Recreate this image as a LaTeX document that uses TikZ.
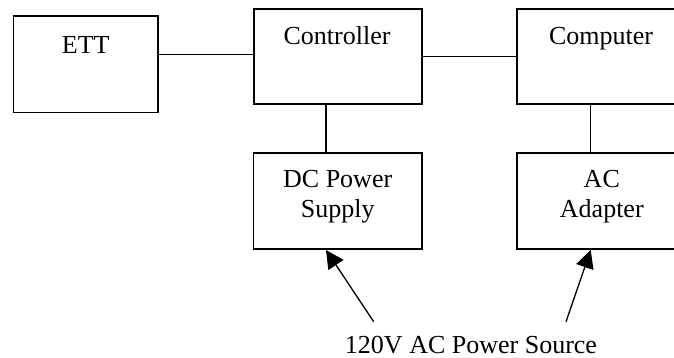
\documentclass[tikz,border=0pt]{standalone}
\usepackage{fontspec}
\setmainfont{Liberation Serif}
\usetikzlibrary{arrows.meta}
\begin{document}
\begin{tikzpicture}[x=1pt,y=-1pt,
  box/.style={draw,line width=1.8pt,rectangle,inner sep=0pt},
  lbl/.style={inner sep=0pt,font=\fontsize{26}{30}\selectfont},
  wire/.style={line width=1.5pt},
  feed/.style={line width=1.3pt,-{Triangle[length=18pt,width=18pt]}}]
\useasboundingbox (0,0) rectangle (674,358);
\begin{scope}
\clip (0,0) rectangle (674,358);
\node[box,minimum width=144.5pt,minimum height=96.6pt] (ett) at (85.75,64.3) {};
\node[box,minimum width=168pt,minimum height=95.3pt] (ctrl) at (338,56.65) {};
\node[box,minimum width=168pt,minimum height=95.3pt] (comp) at (601,56.65) {};
\node[box,minimum width=168.5pt,minimum height=96pt] (dc) at (337.75,200.7) {};
\node[box,minimum width=168pt,minimum height=96pt] (ac) at (601.35,200.7) {};
\end{scope}
\node[lbl,anchor=base] (ettl) at (85.75,53.3) {ETT};
\node[lbl,anchor=base] (ctrll) at (337,45) {Controller};
\node[lbl,anchor=base] (compl) at (601,45) {Computer};
\node[lbl,align=center] (dcl) at (337.7,197) {DC Power\\Supply};
\node[lbl,align=center] (acl) at (601.8,197) {AC\\Adapter};
\node[lbl,anchor=base] (src) at (471,353) {120V AC Power Source};
\draw[wire] ([yshift=10pt]ett.east) -- ([yshift=10pt]ett.east -| ctrl.west);
\draw[wire] (ctrl.east) -- (ctrl.east -| comp.west);
\draw[wire] ([xshift=-12pt]ctrl.south) -- ([xshift=-12pt]ctrl.south |- dc.north);
\draw[wire] ([xshift=-10.7pt]comp.south) -- ([xshift=-10.7pt]comp.south |- ac.north);
\coordinate (tA) at (373.7,321.7);
\coordinate (tB) at (566,321.7);
\coordinate (hA) at (326,250);
\coordinate (hB) at (590.7,250);
\draw[feed] (tA) -- (hA);
\draw[feed] (tB) -- (hB);
\end{tikzpicture}
\end{document}
